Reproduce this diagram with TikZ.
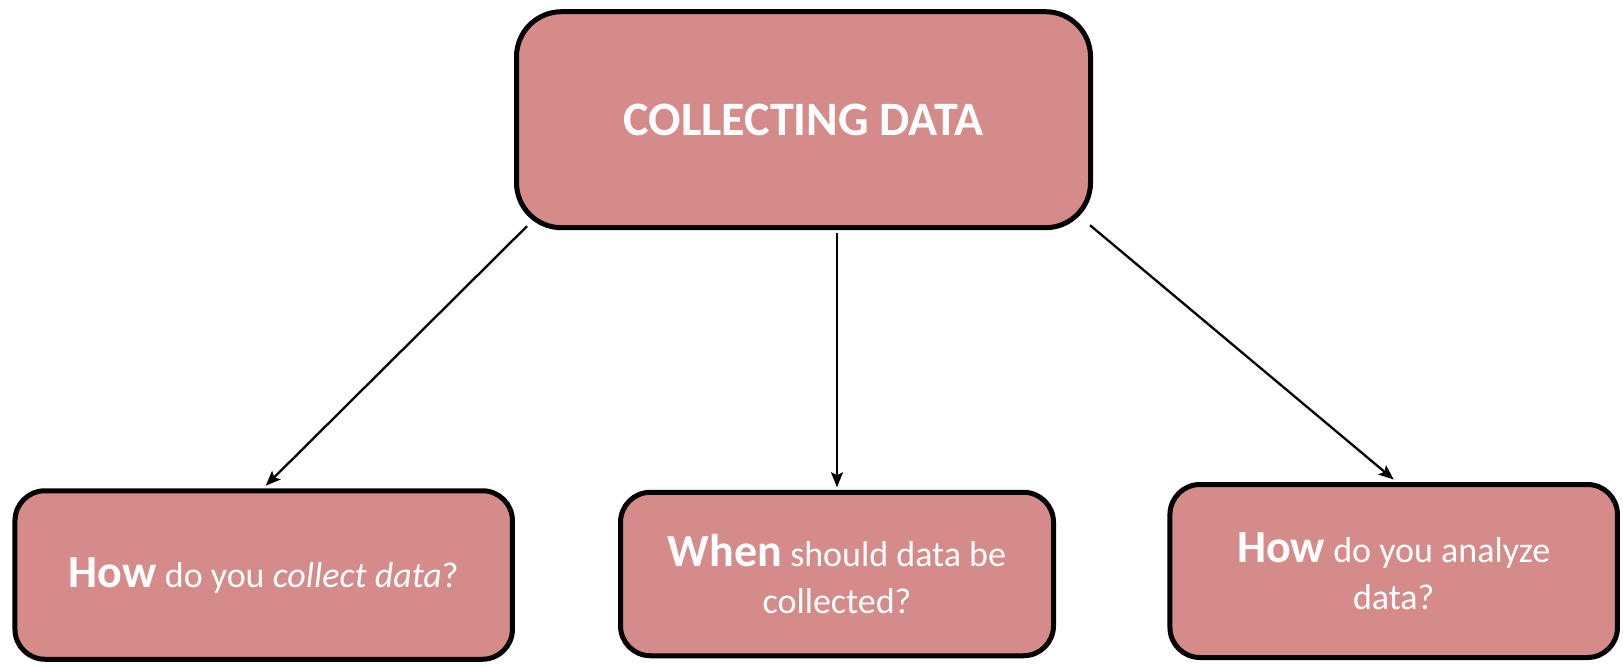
\documentclass[tikz,border=0pt]{standalone}
\usepackage{fontspec}
\setmainfont{Carlito}
\usetikzlibrary{calc,arrows.meta}
\definecolor{boxfill}{HTML}{D48B89}
\begin{document}
\begin{tikzpicture}[x=1pt,y=-1pt,
  basebox/.style={draw=black, fill=boxfill, text=white, align=center, inner sep=0pt},
  topbox/.style={basebox, line width=5pt, rounded corners=45pt},
  subbox/.style={basebox, line width=5pt, rounded corners=30pt},
  subtext/.style={font=\fontsize{36}{47}\selectfont},
  conn/.style={line width=2.3pt, -{Stealth[length=15pt,width=12pt,inset=3pt]}}
]
\newcommand{\bigw}[1]{{\fontsize{46}{50}\selectfont\bfseries #1}}
\useasboundingbox (0,0) rectangle (1623,665);

\node[topbox, minimum width=574pt, minimum height=216pt,
      font=\fontsize{48}{54}\selectfont\bfseries] (top) at (803.5,119.7) {COLLECTING DATA};

\node[subbox, subtext, minimum width=497.5pt, minimum height=168.5pt] (bl) at (263.7,575)
      {\bigw{How} do you \textit{collect data}?};

\node[subbox, subtext, minimum width=433pt, minimum height=163.5pt] (bm) at (837,574)
      {\bigw{When} should data be\\collected?};

\node[subbox, subtext, minimum width=447.5pt, minimum height=173pt] (br) at (1393.7,571)
      {\bigw{How} do you analyze\\data?};

\draw[conn] ($(top.south west)+(13,-4)$) -- ($(bl.north)+(2,-2.5)$);
\draw[conn] (bm.north |- top.south) ++(0,2.5) -- ($(bm.north)+(0,-2.5)$);
\draw[conn] ($(top.south east)+(-3,-5)$) -- ($(br.north)+(0,-2.5)$);
\end{tikzpicture}
\end{document}
